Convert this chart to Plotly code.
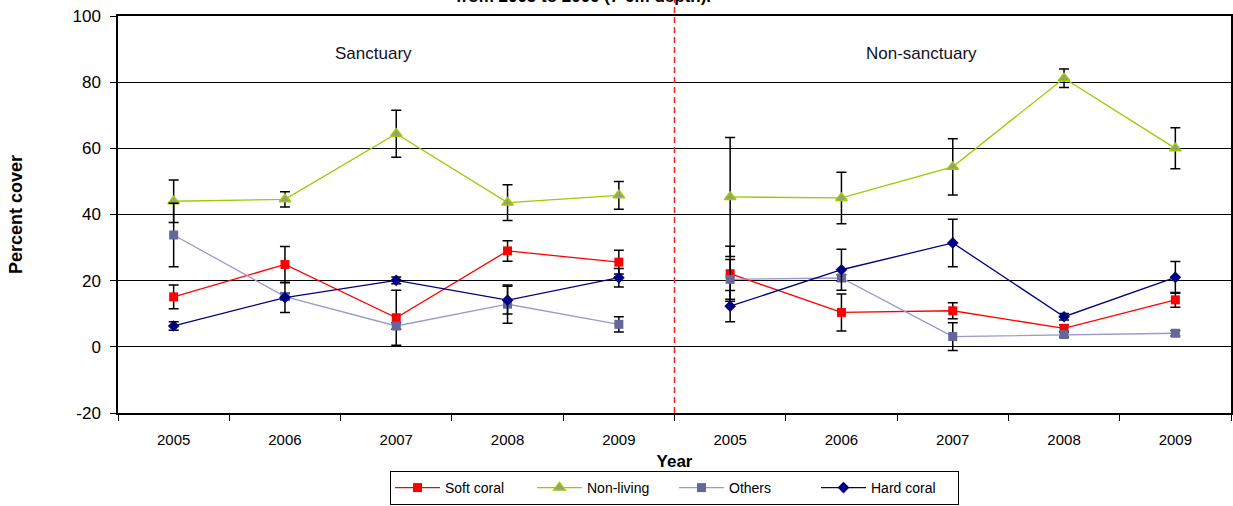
import plotly.graph_objects as go

# Survey years and sites
years = ["2005", "2006", "2007", "2008", "2009"]
sites = ["Sanctuary", "Non-sanctuary"]

# Mean percent cover per site (Sanctuary years, then Non-sanctuary years)
soft_coral = [15.1, 24.9, 8.8, 29.0, 25.6, 22.1, 10.4, 10.9, 5.6, 14.2]
non_living = [44.0, 44.6, 64.4, 43.6, 45.8, 45.3, 45.0, 54.4, 81.2, 60.0]
others = [33.8, 15.2, 6.3, 12.9, 6.8, 20.4, 20.8, 3.1, 3.7, 4.1]
hard_coral = [6.3, 14.9, 20.1, 14.1, 20.9, 12.3, 23.3, 31.4, 9.1, 21.0]

# Standard errors
soft_coral_err = [3.6, 5.4, 8.3, 3.1, 3.6, 8.3, 5.6, 2.4, 1.0, 2.2]
non_living_err = [6.4, 2.3, 7.1, 5.4, 4.2, 18.0, 7.8, 8.5, 2.8, 6.2]
others_err = [9.6, 1.0, 1.0, 5.8, 2.3, 6.0, 1.0, 4.2, 0.8, 0.8]
hard_coral_err = [1.3, 4.5, 1.0, 4.2, 2.8, 4.7, 6.2, 7.2, 1.0, 4.8]

y_ticks = [-20, 0, 20, 40, 60, 80, 100]
y_tick_text = ["-20", "0", "20", "40", "60", "80", "100"]

series = [
    ("Soft coral", soft_coral, soft_coral_err,
     dict(color="#FF0000", width=1.3), dict(symbol="square", size=9, color="#FF0000")),
    ("Non-living", non_living, non_living_err,
     dict(color="#99CC00", width=1.3),
     dict(symbol="triangle-up", size=10, color="#9A9A80", line=dict(color="#99CC00", width=1.5))),
    ("Others", others, others_err,
     dict(color="#9999CC", width=1.3), dict(symbol="square", size=9, color="#666699")),
    ("Hard coral", hard_coral, hard_coral_err,
     dict(color="#000080", width=1.3), dict(symbol="diamond", size=9, color="#000080")),
]

n = len(years)
fig = go.Figure()
for name, vals, errs, line, marker in series:
    for s, site in enumerate(sites):
        idx = list(range(s * n, (s + 1) * n))
        fig.add_trace(go.Scatter(
            x=idx,
            y=[vals[i] for i in idx],
            mode="lines+markers",
            name=name,
            legendgroup=name,
            showlegend=(s == 0),
            line=line,
            marker=marker,
            error_y=dict(type="data", array=[errs[i] for i in idx],
                         color="black", thickness=1.5, width=5),
        ))

# Divider between the two sites
fig.add_shape(type="line", xref="x", yref="paper", x0=n - 0.5, x1=n - 0.5,
              y0=0, y1=1.06, line=dict(color="#FF2020", width=1.5, dash="6px,4px"))

font = "Liberation Sans, Arial, sans-serif"
site_x = [1.8, 6.72]
for sx, site in zip(site_x, sites):
    fig.add_annotation(x=sx, y=88.8, xref="x", yref="y", text=site, showarrow=False,
                       font=dict(family=font, size=17, color="#111122"))

fig.add_annotation(x=0.418, y=1.05, xref="paper", yref="paper",
                   text="<b>from 2005 to 2009 (7-9m depth).</b>", showarrow=False,
                   yanchor="middle", font=dict(family=font, size=17, color="black"))

labels = years * len(sites)
fig.update_layout(
    width=1233, height=506,
    margin=dict(l=118, r=2, t=16, b=93, autoexpand=False),
    paper_bgcolor="white", plot_bgcolor="white",
    font=dict(family=font, size=13, color="black"),
    showlegend=True,
    legend=dict(orientation="h", x=0.5, xanchor="center", xref="paper",
                y=0.002, yanchor="bottom", yref="container",
                bordercolor="black", borderwidth=1, bgcolor="white",
                font=dict(family=font, size=14), itemwidth=45,
                entrywidth=82, entrywidthmode="pixels",
                tracegroupgap=0),
    xaxis=dict(
        range=[-0.5, 2 * n - 0.5], automargin=False,
        tickvals=list(range(2 * n)), ticktext=labels, ticks="",
        ticklabelstandoff=12,
        showgrid=False, zeroline=False,
        showline=True, linecolor="black", linewidth=1.5, mirror=True,
        tickfont=dict(family=font, size=15),
        minor=dict(tickvals=[i - 0.5 for i in range(2 * n + 1)], ticks="outside",
                   ticklen=6, tickwidth=1.2, tickcolor="black", showgrid=False),
        title=dict(text="<b>Year</b>", font=dict(family=font, size=17), standoff=9),
    ),
    yaxis=dict(
        range=[-20, 100], tickvals=y_ticks, ticktext=y_tick_text, automargin=False,
        ticks="outside", ticklen=6, tickwidth=1.2, tickcolor="black",
        ticklabelstandoff=6,
        showgrid=True, gridcolor="black", gridwidth=1.3, zeroline=False,
        showline=True, linecolor="black", linewidth=1.5, mirror=True,
        tickfont=dict(family=font, size=17),
        title=dict(text="<b>Percent cover</b>", font=dict(family=font, size=18), standoff=45),
    ),
)

fig.write_html("out.html")
